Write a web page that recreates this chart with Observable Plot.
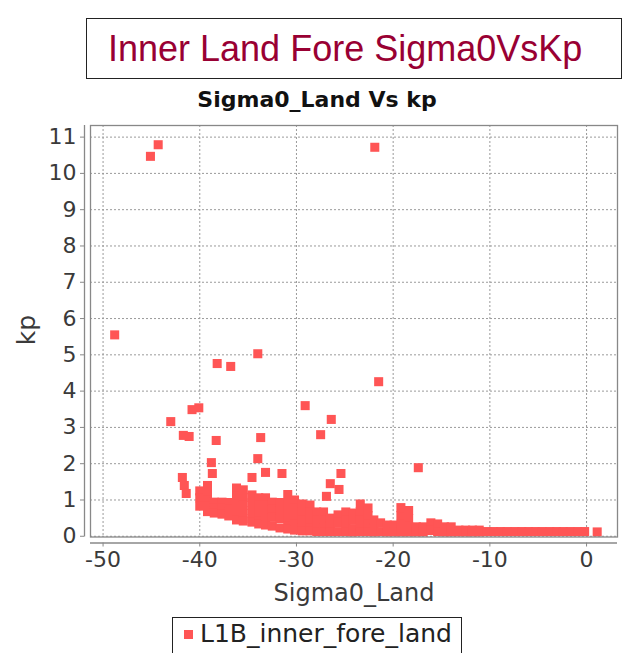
<!DOCTYPE html>
<html>
<head>
<meta charset="utf-8">
<script src="https://cdn.jsdelivr.net/npm/d3@7"></script>
<script src="https://cdn.jsdelivr.net/npm/@observablehq/plot@0.6"></script>
<style>
  html, body { margin: 0; padding: 0; background: #fff; }
  body { width: 634px; height: 653px; position: relative; overflow: hidden; }
  #title {
    position: absolute; left: 86px; top: 18px; width: 536px; height: 61px;
    box-sizing: border-box; border: 1px solid #222;
    font-family: "Liberation Sans", Arial, sans-serif; font-size: 36px;
    color: #990033; line-height: 59px; padding-left: 21px; white-space: nowrap;
  }
  #subtitle {
    position: absolute; left: 0; top: 87px; width: 634px; text-align: center;
    font-family: "DejaVu Sans", sans-serif; font-weight: bold; font-size: 22px;
    line-height: 26px; color: #111;
  }
  #chart { position: absolute; left: 0; top: 112px; }
  #legend {
    position: absolute; left: 172px; top: 617px; width: 290px; height: 44px;
    box-sizing: border-box; border: 1px solid #222; background: #fff;
    font-family: "DejaVu Sans", sans-serif; font-size: 25px; color: #222;
    white-space: nowrap;
  }
  #legend .sw { position: absolute; left: 11px; top: 12px; width: 9px; height: 9px; background: #ff5555; }
  #legend .lb { position: absolute; left: 27px; top: 1px; line-height: 30px; }
</style>
</head>
<body>
<div id="title">Inner Land Fore Sigma0VsKp</div>
<div id="subtitle">Sigma0_Land Vs kp</div>
<div id="chart"></div>
<div id="legend"><span class="sw"></span><span class="lb">L1B_inner_fore_land</span></div>
<script>
// ---- data ----
const seriesName = "L1B_inner_fore_land";
const xLabel = "Sigma0_Land";
const yLabel = "kp";
const xTicks = [-50, -40, -30, -20, -10, 0];
const yTicks = [0, 1, 2, 3, 4, 5, 6, 7, 8, 9, 10, 11];

// scattered points
const outlierSigma0 = [-45.1, -44.3, -48.8, -21.9, -21.5, -38.2, -36.8, -34.0, -43.0, -40.8, -40.1,
  -41.7, -41.1, -38.3, -33.7, -29.1, -26.4, -27.5, -31.5, -25.4, -26.5, -25.6, -26.9, -38.8, -38.7,
  -41.8, -41.6, -41.4, -34.0, -33.2, -34.6, -17.4, -19.2, -18.4, 1.1];
const outlierKp = [10.47, 10.79, 5.55, 10.72, 4.26, 4.76, 4.68, 5.03, 3.16, 3.49, 3.54,
  2.78, 2.75, 2.64, 2.72, 3.60, 3.22, 2.80, 1.73, 1.73, 1.45, 1.29, 1.10, 2.03, 1.73,
  1.62, 1.40, 1.18, 2.14, 1.76, 1.62, 1.89, 0.79, 0.71, 0.12];

// dense band: sigma0 of each column and the kp values found there
const bandSigma0 = [-40.0, -39.2, -38.5, -37.7, -37.0, -36.2, -35.5, -34.6, -33.9, -33.2,
  -32.5, -31.7, -30.9, -30.2, -29.4, -28.6, -27.9, -27.2, -26.5, -25.7,
  -24.9, -24.2, -23.4, -22.6, -22.0, -21.3, -20.6, -19.9, -19.2, -18.4,
  -17.6, -16.9, -16.1, -15.4, -14.7, -14.0, -13.2, -12.5, -11.8, -11.1,
  -10.3, -9.6, -8.9, -8.2, -7.4, -6.7, -6.0, -5.3, -4.6, -3.8, -3.1, -2.4, -1.7, -0.9, -0.2];
const bandKp = [
  [1.25, 1.06, 0.83], [1.40, 1.21, 0.99, 0.83, 0.68], [0.94, 0.78, 0.64], [0.94, 0.77, 0.61], [0.93, 0.74, 0.56],
  [1.33, 1.12, 0.90, 0.68, 0.45], [1.28, 1.07, 0.85, 0.63, 0.42], [1.14, 0.93, 0.71, 0.49, 0.39],
  [1.06, 0.85, 0.63, 0.41, 0.34], [1.06, 0.85, 0.63, 0.43, 0.31],
  [0.94, 0.74, 0.52, 0.28], [0.93, 0.71, 0.49, 0.23], [1.15, 0.93, 0.71, 0.49, 0.27, 0.20],
  [1.00, 0.79, 0.57, 0.35, 0.17], [0.89, 0.68, 0.46, 0.24, 0.15], [0.86, 0.66, 0.44, 0.22, 0.15],
  [0.67, 0.46, 0.24, 0.13], [0.67, 0.46, 0.24, 0.13], [0.50, 0.30, 0.13], [0.59, 0.38, 0.13],
  [0.67, 0.46, 0.24, 0.13], [0.64, 0.44, 0.21, 0.12], [0.89, 0.68, 0.46, 0.24, 0.13],
  [0.78, 0.57, 0.35, 0.13], [0.45, 0.24, 0.12], [0.37, 0.13], [0.31, 0.12], [0.31, 0.12],
  [0.57, 0.33, 0.12], [0.49, 0.27, 0.12],
  [0.26, 0.12], [0.26, 0.12], [0.37, 0.16], [0.34, 0.13], [0.26, 0.12], [0.26, 0.12],
  [0.17, 0.12], [0.17, 0.12], [0.17, 0.12], [0.17, 0.12],
  [0.13], [0.13], [0.13], [0.13], [0.13], [0.13], [0.13], [0.13], [0.13], [0.13], [0.13], [0.13], [0.13], [0.13], [0.13]
];

// ---- build table ----
const points = [];
bandSigma0.forEach((s, i) => bandKp[i].forEach(k => points.push({sigma0: s, kp: k, series: seriesName})));
outlierSigma0.forEach((s, i) => points.push({sigma0: s, kp: outlierKp[i], series: seriesName}));

const xDomain = [-51.3, 3.2];
const yDomain = [-0.02, 11.32];
const font = "DejaVu Sans, sans-serif";
const grid = {stroke: "#9a9a9a", strokeOpacity: 1, strokeDasharray: "2,2", strokeWidth: 1};

const chart = Plot.plot({
  width: 634,
  height: 500,
  marginTop: 13,
  marginLeft: 90,
  marginRight: 17,
  marginBottom: 75.5,
  style: {fontFamily: font, background: "#fff", overflow: "visible"},
  x: {domain: xDomain, axis: null},
  y: {domain: yDomain, axis: null},
  marks: [
    Plot.gridX(xTicks, grid),
    Plot.gridY(yTicks, grid),
    Plot.dot(points, {x: "sigma0", y: "kp", symbol: "square", r: 5.1, fill: "#ff5555", stroke: "none"}),
    Plot.frame({stroke: "#888", strokeWidth: 1.3}),
    Plot.ruleY([yDomain[0]], {dy: 6, stroke: "#888", strokeWidth: 1.3}),
    Plot.ruleX([xDomain[0]], {dx: -6, stroke: "#888", strokeWidth: 1.3}),
    Plot.axisX(xTicks, {tickSize: 4, tickPadding: 4, dy: 6, fontSize: 22, fill: "#3a3a3a", stroke: "#888",
      tickFormat: d => String(d), label: null}),
    Plot.axisY(yTicks, {tickSize: 4, tickPadding: 4, dx: -6, fontSize: 22, fill: "#3a3a3a", stroke: "#888",
      tickFormat: d => String(d), label: null}),
    Plot.text([xLabel], {frameAnchor: "bottom", text: d => d, dy: 64, fontSize: 24, fill: "#3a3a3a"}),
    Plot.text([yLabel], {frameAnchor: "left", text: d => d, rotate: -90, dx: -64, dy: 14, fontSize: 25, fill: "#3a3a3a"})
  ]
});
document.getElementById("chart").appendChild(chart);
</script>
</body>
</html>
